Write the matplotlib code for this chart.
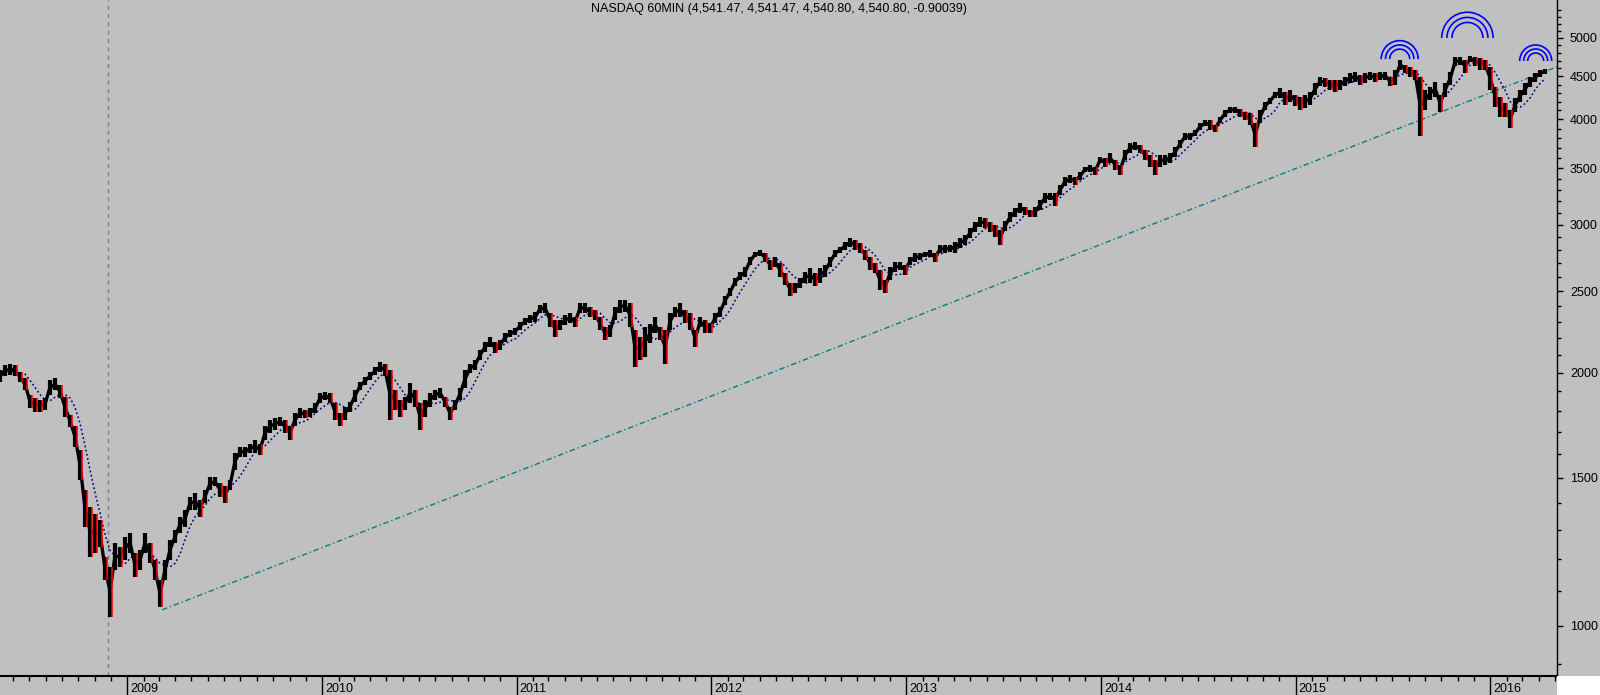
# -*- coding: utf-8 -*-

import numpy as np
import pandas as pd
import matplotlib
matplotlib.use('Agg')
import matplotlib.pyplot as plt
import matplotlib.dates as mdates
import matplotlib.ticker as mticker
import matplotlib.transforms as mtransforms
from matplotlib.patches import Arc, Rectangle

plt.rcParams['font.family'] = ['Liberation Sans', 'DejaVu Sans']

title_text = 'NASDAQ 60MIN (4,541.47, 4,541.47, 4,540.80, 4,540.80, -0.90039)'

# bar range, evenly spaced samples from start to end date
bar_start = '2008-05-07'
bar_end = '2016-04-13'
bar_high = [
    2015, 2043, 2050, 2043, 2005, 1970, 1882, 1865, 1856, 1865,
    1960, 1970, 1934, 1872, 1781, 1728, 1619, 1451, 1385, 1360,
    1337, 1208, 1175, 1255, 1241, 1276, 1290, 1220, 1231, 1290,
    1255, 1198, 1134, 1198, 1265, 1300, 1348, 1374, 1424, 1437,
    1412, 1451, 1503, 1503, 1478, 1465, 1491, 1606, 1632, 1632,
    1645, 1664, 1645, 1728, 1757, 1767, 1771, 1757, 1728, 1790,
    1815, 1806, 1815, 1840, 1892, 1897, 1892, 1840, 1790, 1823,
    1848, 1908, 1950, 1976, 2005, 2032, 2060, 2050, 2015, 1908,
    1856, 1872, 1945, 1908, 1840, 1856, 1892, 1908, 1918, 1872,
    1823, 1856, 1918, 2015, 2050, 2071, 2128, 2175, 2205, 2175,
    2187, 2230, 2248, 2260, 2298, 2324, 2342, 2362, 2408, 2420,
    2355, 2311, 2311, 2342, 2355, 2330, 2420, 2420, 2395, 2375,
    2330, 2267, 2279, 2395, 2441, 2441, 2420, 2248, 2205, 2267,
    2285, 2330, 2267, 2248, 2355, 2395, 2420, 2375, 2355, 2248,
    2330, 2311, 2292, 2355, 2395, 2468, 2522, 2592, 2636, 2672,
    2745, 2785, 2800, 2777, 2723, 2745, 2700, 2628, 2557, 2557,
    2592, 2636, 2664, 2628, 2664, 2686, 2745, 2800, 2822, 2860,
    2893, 2877, 2853, 2800, 2745, 2700, 2650, 2578, 2672, 2708,
    2708, 2686, 2745, 2777, 2777, 2785, 2800, 2777, 2837, 2837,
    2837, 2860, 2893, 2916, 2972, 3022, 3064, 3056, 3022, 2997,
    2956, 3030, 3106, 3140, 3185, 3149, 3123, 3149, 3210, 3272,
    3272, 3272, 3345, 3420, 3437, 3420, 3466, 3514, 3533, 3514,
    3611, 3601, 3651, 3581, 3533, 3681, 3752, 3762, 3732, 3681,
    3631, 3581, 3631, 3631, 3651, 3711, 3783, 3855, 3855, 3888,
    3960, 3996, 3996, 3942, 4029, 4107, 4141, 4141, 4118, 4085,
    4074, 3960, 4107, 4198, 4245, 4315, 4363, 4315, 4339, 4280,
    4256, 4280, 4315, 4423, 4495, 4483, 4458, 4458, 4458, 4495,
    4545, 4557, 4520, 4545, 4557, 4545, 4557, 4557, 4495, 4582,
    4710, 4645, 4620, 4582, 4495, 4339, 4374, 4435, 4280, 4423,
    4557, 4750, 4750, 4710, 4762, 4750, 4735, 4710, 4620, 4374,
    4256, 4186, 4107, 4245, 4339, 4423, 4495, 4545, 4582, 4595,
]
bar_low = [
    1950, 1980, 1987, 1980, 1950, 1908, 1815, 1795, 1795, 1806,
    1882, 1908, 1866, 1771, 1724, 1632, 1491, 1311, 1208, 1220,
    1241, 1134, 1025, 1166, 1175, 1198, 1220, 1144, 1166, 1220,
    1188, 1134, 1053, 1134, 1198, 1255, 1290, 1311, 1374, 1374,
    1348, 1400, 1451, 1465, 1425, 1400, 1451, 1533, 1590, 1590,
    1606, 1606, 1597, 1664, 1698, 1710, 1728, 1698, 1664, 1728,
    1767, 1767, 1771, 1790, 1840, 1856, 1840, 1757, 1728, 1757,
    1798, 1848, 1908, 1934, 1960, 1987, 2005, 1980, 1757, 1806,
    1771, 1806, 1840, 1823, 1710, 1771, 1823, 1856, 1866, 1823,
    1757, 1806, 1856, 1918, 2000, 2015, 2071, 2117, 2145, 2110,
    2128, 2175, 2205, 2217, 2248, 2279, 2292, 2298, 2355, 2355,
    2267, 2205, 2248, 2279, 2292, 2267, 2355, 2355, 2330, 2311,
    2248, 2187, 2205, 2311, 2355, 2362, 2267, 2032, 2071, 2088,
    2168, 2230, 2187, 2050, 2248, 2330, 2330, 2292, 2248, 2145,
    2267, 2230, 2230, 2292, 2330, 2408, 2468, 2535, 2578, 2600,
    2686, 2745, 2750, 2708, 2650, 2672, 2600, 2543, 2468, 2490,
    2522, 2557, 2557, 2535, 2557, 2600, 2672, 2745, 2777, 2800,
    2822, 2800, 2777, 2723, 2650, 2628, 2508, 2490, 2578, 2636,
    2650, 2614, 2686, 2708, 2723, 2745, 2745, 2708, 2777, 2777,
    2785, 2777, 2815, 2837, 2893, 2940, 2980, 2972, 2940, 2900,
    2837, 2948, 3022, 3064, 3098, 3081, 3064, 3064, 3123, 3185,
    3210, 3158, 3254, 3336, 3362, 3345, 3390, 3466, 3466, 3437,
    3551, 3514, 3551, 3485, 3437, 3581, 3651, 3681, 3651, 3581,
    3514, 3437, 3514, 3533, 3551, 3611, 3701, 3783, 3783, 3820,
    3888, 3925, 3888, 3862, 3960, 4029, 4074, 4074, 4029, 3996,
    3942, 3711, 3960, 4107, 4176, 4245, 4245, 4164, 4198, 4153,
    4107, 4130, 4164, 4280, 4386, 4374, 4339, 4315, 4339, 4386,
    4423, 4435, 4398, 4423, 4458, 4435, 4458, 4458, 4386, 4398,
    4582, 4545, 4495, 4458, 3825, 4107, 4221, 4256, 4085, 4256,
    4398, 4632, 4645, 4545, 4680, 4632, 4582, 4582, 4339, 4141,
    4029, 4029, 3910, 4085, 4198, 4280, 4374, 4435, 4495, 4533,
]

# trend line from the March 2009 low
trend_dates = ['2009-03-07', '2016-05-05']
trend_values = [1045, 4620]

# cursor line at the 2008 low
cursor_date = '2008-11-25'

# arc markers above the tops
arc_dates = ['2015-07-15', '2015-11-19', '2016-03-26']
arc_values = [4718, 5000, 4694]

y_major = [1000, 1500, 2000, 2500, 3000, 3500, 4000, 4500, 5000]


def plot_chart():
    """60 min bars on a log scale"""

    dates = pd.date_range(bar_start, bar_end, periods=len(bar_high))
    high = np.array(bar_high, dtype=float)
    low = np.array(bar_low, dtype=float)
    mid = (high + low) / 2
    falling = np.r_[False, mid[1:] < mid[:-1]]
    ma = pd.Series(mid).rolling(5, min_periods=1).mean()

    fig = plt.figure(figsize=(16, 6.95), dpi=100, facecolor='#C0C0C0')
    ax = fig.add_axes((0, 19 / 695, 1557 / 1600, 676 / 695), facecolor='#C0C0C0')
    ax.set_yscale('log')

    # cursor, trend line, moving average
    ax.axvline(pd.Timestamp(cursor_date), color='#808080', lw=1, ls=(0, (3, 3)))
    ax.plot(pd.to_datetime(trend_dates), trend_values, color='#008080', lw=1, ls=(0, (4, 2, 1, 2)))
    ax.plot(dates, ma, color='#000080', lw=1.1, ls=(0, (1.2, 1.6)))

    # price bars, red on the way down
    ax.plot(dates, mid, color='black', lw=2.4)
    ax.vlines(dates, low, high, color='black', lw=3.0)
    shift = (dates[1] - dates[0]) * 0.35
    ax.vlines(dates[falling] + shift, low[falling], high[falling], color='red', lw=1.1)

    # arcs, radius in pixels
    arc_radii = [[18.5, 14.2, 10], [25.7, 20.5, 15.5], [16, 12, 8]]
    for d, v, radii in zip(arc_dates, arc_values, arc_radii):
        anchor = mtransforms.ScaledTranslation(mdates.date2num(pd.Timestamp(d)), v, ax.transData)
        for r in radii:
            ax.add_artist(Arc((0, 0), 2 * r, 2 * r, theta1=0, theta2=180,
                              transform=mtransforms.IdentityTransform() + anchor,
                              color='#0000FF', lw=1.2))

    ax.set_xlim(pd.Timestamp('2008-05-07'), pd.Timestamp('2016-05-05'))
    ax.set_ylim(872, 5547)

    # x axis: years, monthly minor ticks
    ax.xaxis.set_major_locator(mdates.YearLocator())
    ax.xaxis.set_major_formatter(mdates.DateFormatter('%Y'))
    ax.xaxis.set_minor_locator(mdates.MonthLocator())
    ax.tick_params(axis='x', which='major', length=13.7, width=1, pad=-9, labelsize=9, direction='out')
    ax.tick_params(axis='x', which='minor', length=3.6, width=1, direction='out')

    # y axis on the right
    ax.yaxis.tick_right()
    ax.yaxis.set_major_locator(mticker.FixedLocator(y_major))
    ax.yaxis.set_minor_locator(mticker.FixedLocator([v for v in range(900, 5600, 100) if v % 500]))
    ax.yaxis.set_major_formatter(mticker.FormatStrFormatter('%d'))
    ax.yaxis.set_minor_formatter(mticker.NullFormatter())
    ax.tick_params(axis='y', which='major', length=4.3, width=1, pad=5, labelsize=9)
    ax.tick_params(axis='y', which='minor', length=2.9, width=1)

    ax.spines['left'].set_visible(False)
    ax.spines['top'].set_visible(False)
    ax.spines['bottom'].set_linewidth(1.5)
    ax.spines['right'].set_linewidth(1)

    nudge = mtransforms.ScaledTranslation(2 / 72, 0, fig.dpi_scale_trans)
    for lbl in ax.get_xticklabels():
        lbl.set_ha('left')
        lbl.set_transform(lbl.get_transform() + nudge)

    ax.text(0.5, 1 - 9 / 676, title_text, transform=ax.transAxes,
            ha='center', va='center', fontsize=9)

    # white corner under the price scale
    fig.add_artist(Rectangle((1557 / 1600, 0), 43 / 1600, 19 / 695, transform=fig.transFigure,
                             facecolor='white', edgecolor='none'))

    fig.savefig('out.png', dpi=100, facecolor=fig.get_facecolor())


if __name__ == '__main__':
    plot_chart()
